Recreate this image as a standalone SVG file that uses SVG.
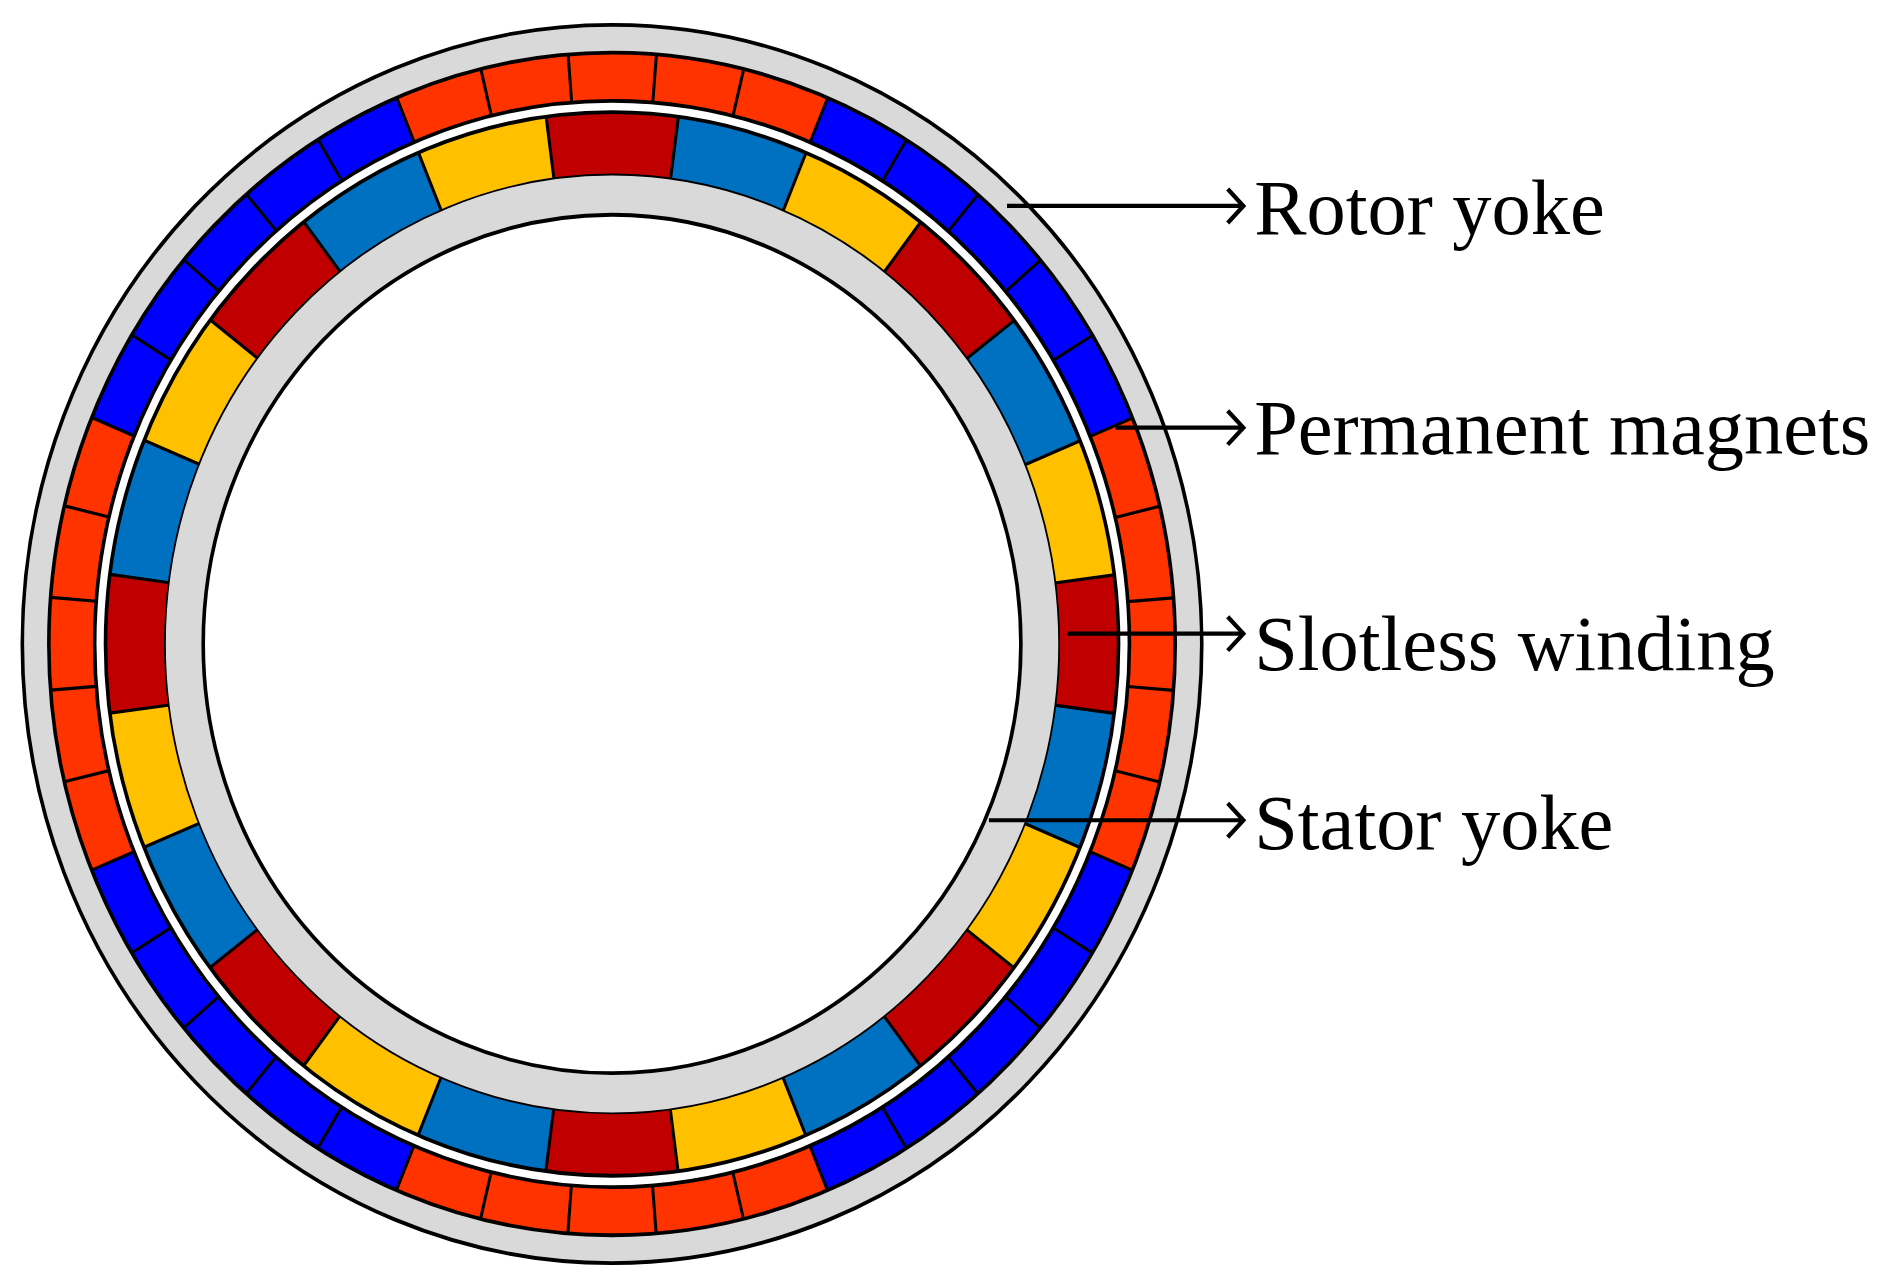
<svg xmlns="http://www.w3.org/2000/svg" width="1885" height="1277" viewBox="0 0 1885 1277">
<style>
.ol{fill:none;stroke:#000;stroke-width:3}
.lbl{font-family:"Liberation Serif",serif;font-size:65px;fill:#000}
.cn{fill:none;stroke:#000;stroke-width:3.5}
</style>
<rect width="1885" height="1277" fill="#fff"/>
<g transform="scale(1.206,1.2116)">
<g id="machine" transform="translate(507.5,531.5) scale(1,1.045)">
<g id="rotor-yoke">
<circle r="478" fill="none" stroke="#d9d9d9" stroke-width="22"/>
<circle r="489" class="ol" stroke-width="3.5"/>
</g>
<g id="permanent-magnets">
<circle r="448" fill="none" stroke="#ff3300" stroke-width="38"/>
<circle r="448" fill="none" stroke="#0000ff" stroke-width="38" stroke-dasharray="351.86 351.86" stroke-dashoffset="-175.93"/>
<circle r="448" fill="none" stroke="#000" stroke-width="38" stroke-dasharray="2.5 67.87" stroke-dashoffset="-33.94"/>
<circle r="467" class="ol"/>
<circle r="429" class="ol"/>
</g>
<g id="slotless-winding">
<circle r="395" fill="none" stroke="#c00000" stroke-width="50"/>
<circle r="395" fill="none" stroke="#0070c0" stroke-width="50" stroke-dasharray="103.41 206.82" stroke-dashoffset="-51.71"/>
<circle r="395" fill="none" stroke="#ffc000" stroke-width="50" stroke-dasharray="103.41 206.82" stroke-dashoffset="-155.12"/>
<circle r="395" fill="none" stroke="#000" stroke-width="50" stroke-dasharray="2.5 100.91" stroke-dashoffset="-50.46"/>
<circle r="420" class="ol"/>
<circle r="370" class="ol"/>
</g>
<g id="stator-yoke">
<circle r="354.5" fill="none" stroke="#d9d9d9" stroke-width="31"/>
<circle r="339" class="ol" fill="#fff"/>
</g>
</g>
<g id="connectors">
<path class="cn" d="M835,170 H1030 M1018,156 L1031,170 L1018,184"/>
<path class="cn" d="M925,353 H1030 M1018,339 L1031,353 L1018,367"/>
<path class="cn" d="M885,523 H1030 M1018,509 L1031,523 L1018,537"/>
<path class="cn" d="M820,677 H1030 M1018,663 L1031,677 L1018,691"/>
</g>
<g id="labels">
<text class="lbl" x="1040" y="193">Rotor yoke</text>
<text class="lbl" x="1040" y="375">Permanent magnets</text>
<text class="lbl" x="1040" y="553">Slotless winding</text>
<text class="lbl" x="1040" y="701">Stator yoke</text>
</g>
</g>
</svg>
